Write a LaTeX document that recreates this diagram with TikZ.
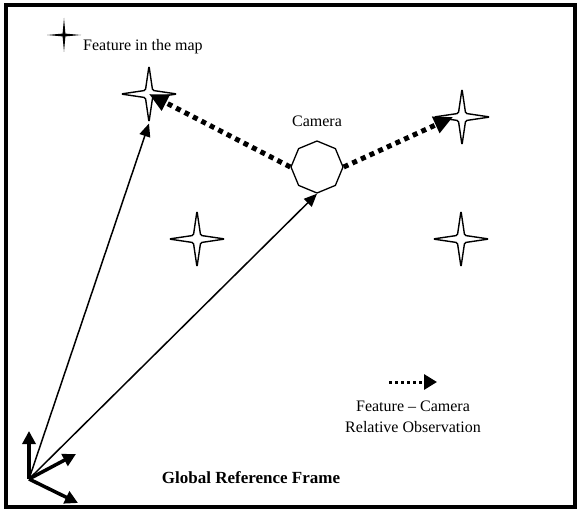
\documentclass[tikz,border=0pt]{standalone}
\usepackage{fontspec}
\setmainfont{Liberation Serif}
\usetikzlibrary{arrows.meta,positioning,shapes.geometric}

\tikzset{
  sparkle/.pic={
    \draw[line width=1.4pt, fill=white, rounded corners=1.5pt] (0,-28) -- (3.6,-3.6) -- (28,0)
      -- (3.6,3.6) -- (0,28) -- (-3.6,3.6) -- (-28,0) -- (-3.6,-3.6) -- cycle;
  },
  smallsparkle/.pic={
    \fill (0,-17) -- (1.4,-1.4) -- (17,0) -- (1.4,1.4) -- (0,17) -- (-1.4,1.4) -- (-17,0) -- (-1.4,-1.4) -- cycle;
  }
}

\begin{document}
\begin{tikzpicture}[
  x=1pt, y=-1pt,
  feat/.style={star, star points=4, star point ratio=6, minimum size=56pt, inner sep=0pt},
  cam/.style={regular polygon, regular polygon sides=8, shape border rotate=22.5,
    minimum size=52pt, inner sep=0pt, draw, line width=1.3pt, fill=white},
  txt/.style={font=\fontsize{16}{21}\selectfont, inner sep=1pt},
  pose/.style={-{Triangle[length=13pt,width=11pt]}, line width=1.5pt},
  axis/.style={-{Triangle[length=13pt,width=13pt]}, line width=3.5pt},
  obs/.style={-{Triangle[length=19pt,width=17pt]}, line width=5pt, dash pattern=on 5pt off 4.5pt}
]
\useasboundingbox (0,0) rectangle (580,511);
\draw[line width=3.5pt] (6,5) rectangle (575,507);

% features
\node[feat, minimum size=34pt] (legstar) at (64,35) {};
\pic at (legstar) {smallsparkle};
\node[txt, anchor=base west] (legtext) at (82,50) {Feature in the map};
\node[feat] (f1) at (149,94) {};
\node[feat] (f2) at (462,117) {};
\node[feat] (f3) at (197,239) {};
\node[feat] (f4) at (461,239) {};
\foreach \f in {f1,f2,f3,f4}
  \pic at (\f) {sparkle};

% camera
\node[cam] (c) at (317,167) {};
\node[txt, above=12pt of c] (camlabel) {Camera};

% global frame
\coordinate (o) at (29,479);
\coordinate (ax1) at (29,431);
\coordinate (ax2) at (76,454);
\coordinate (ax3) at (78,503);
\draw[axis] (o) -- (ax1);
\draw[axis] (o) -- (ax2);
\draw[axis] (o) -- (ax3);
\node[txt, font=\fontsize{17}{20}\selectfont\bfseries] (gframe) at (251,478) {Global Reference Frame};

% camera and feature poses
\draw[pose] (o) -- (f1.south);
\draw[pose] (o) -- (c.south);

% relative observations
\draw[obs] (c.west) -- (f1.center);
\draw[obs] (c.east) -- ([xshift=-9pt]f2.center);

% legend
\coordinate (lega) at (389,382);
\coordinate (legb) at (437,382);
\draw[-{Triangle[length=13pt,width=15pt]}, line width=3pt, dash pattern=on 3pt off 3pt] (lega) -- (legb);
\node[txt, align=center, anchor=north] (legobs) at (413,400) {Feature -- Camera\\Relative Observation};
\end{tikzpicture}
\end{document}
